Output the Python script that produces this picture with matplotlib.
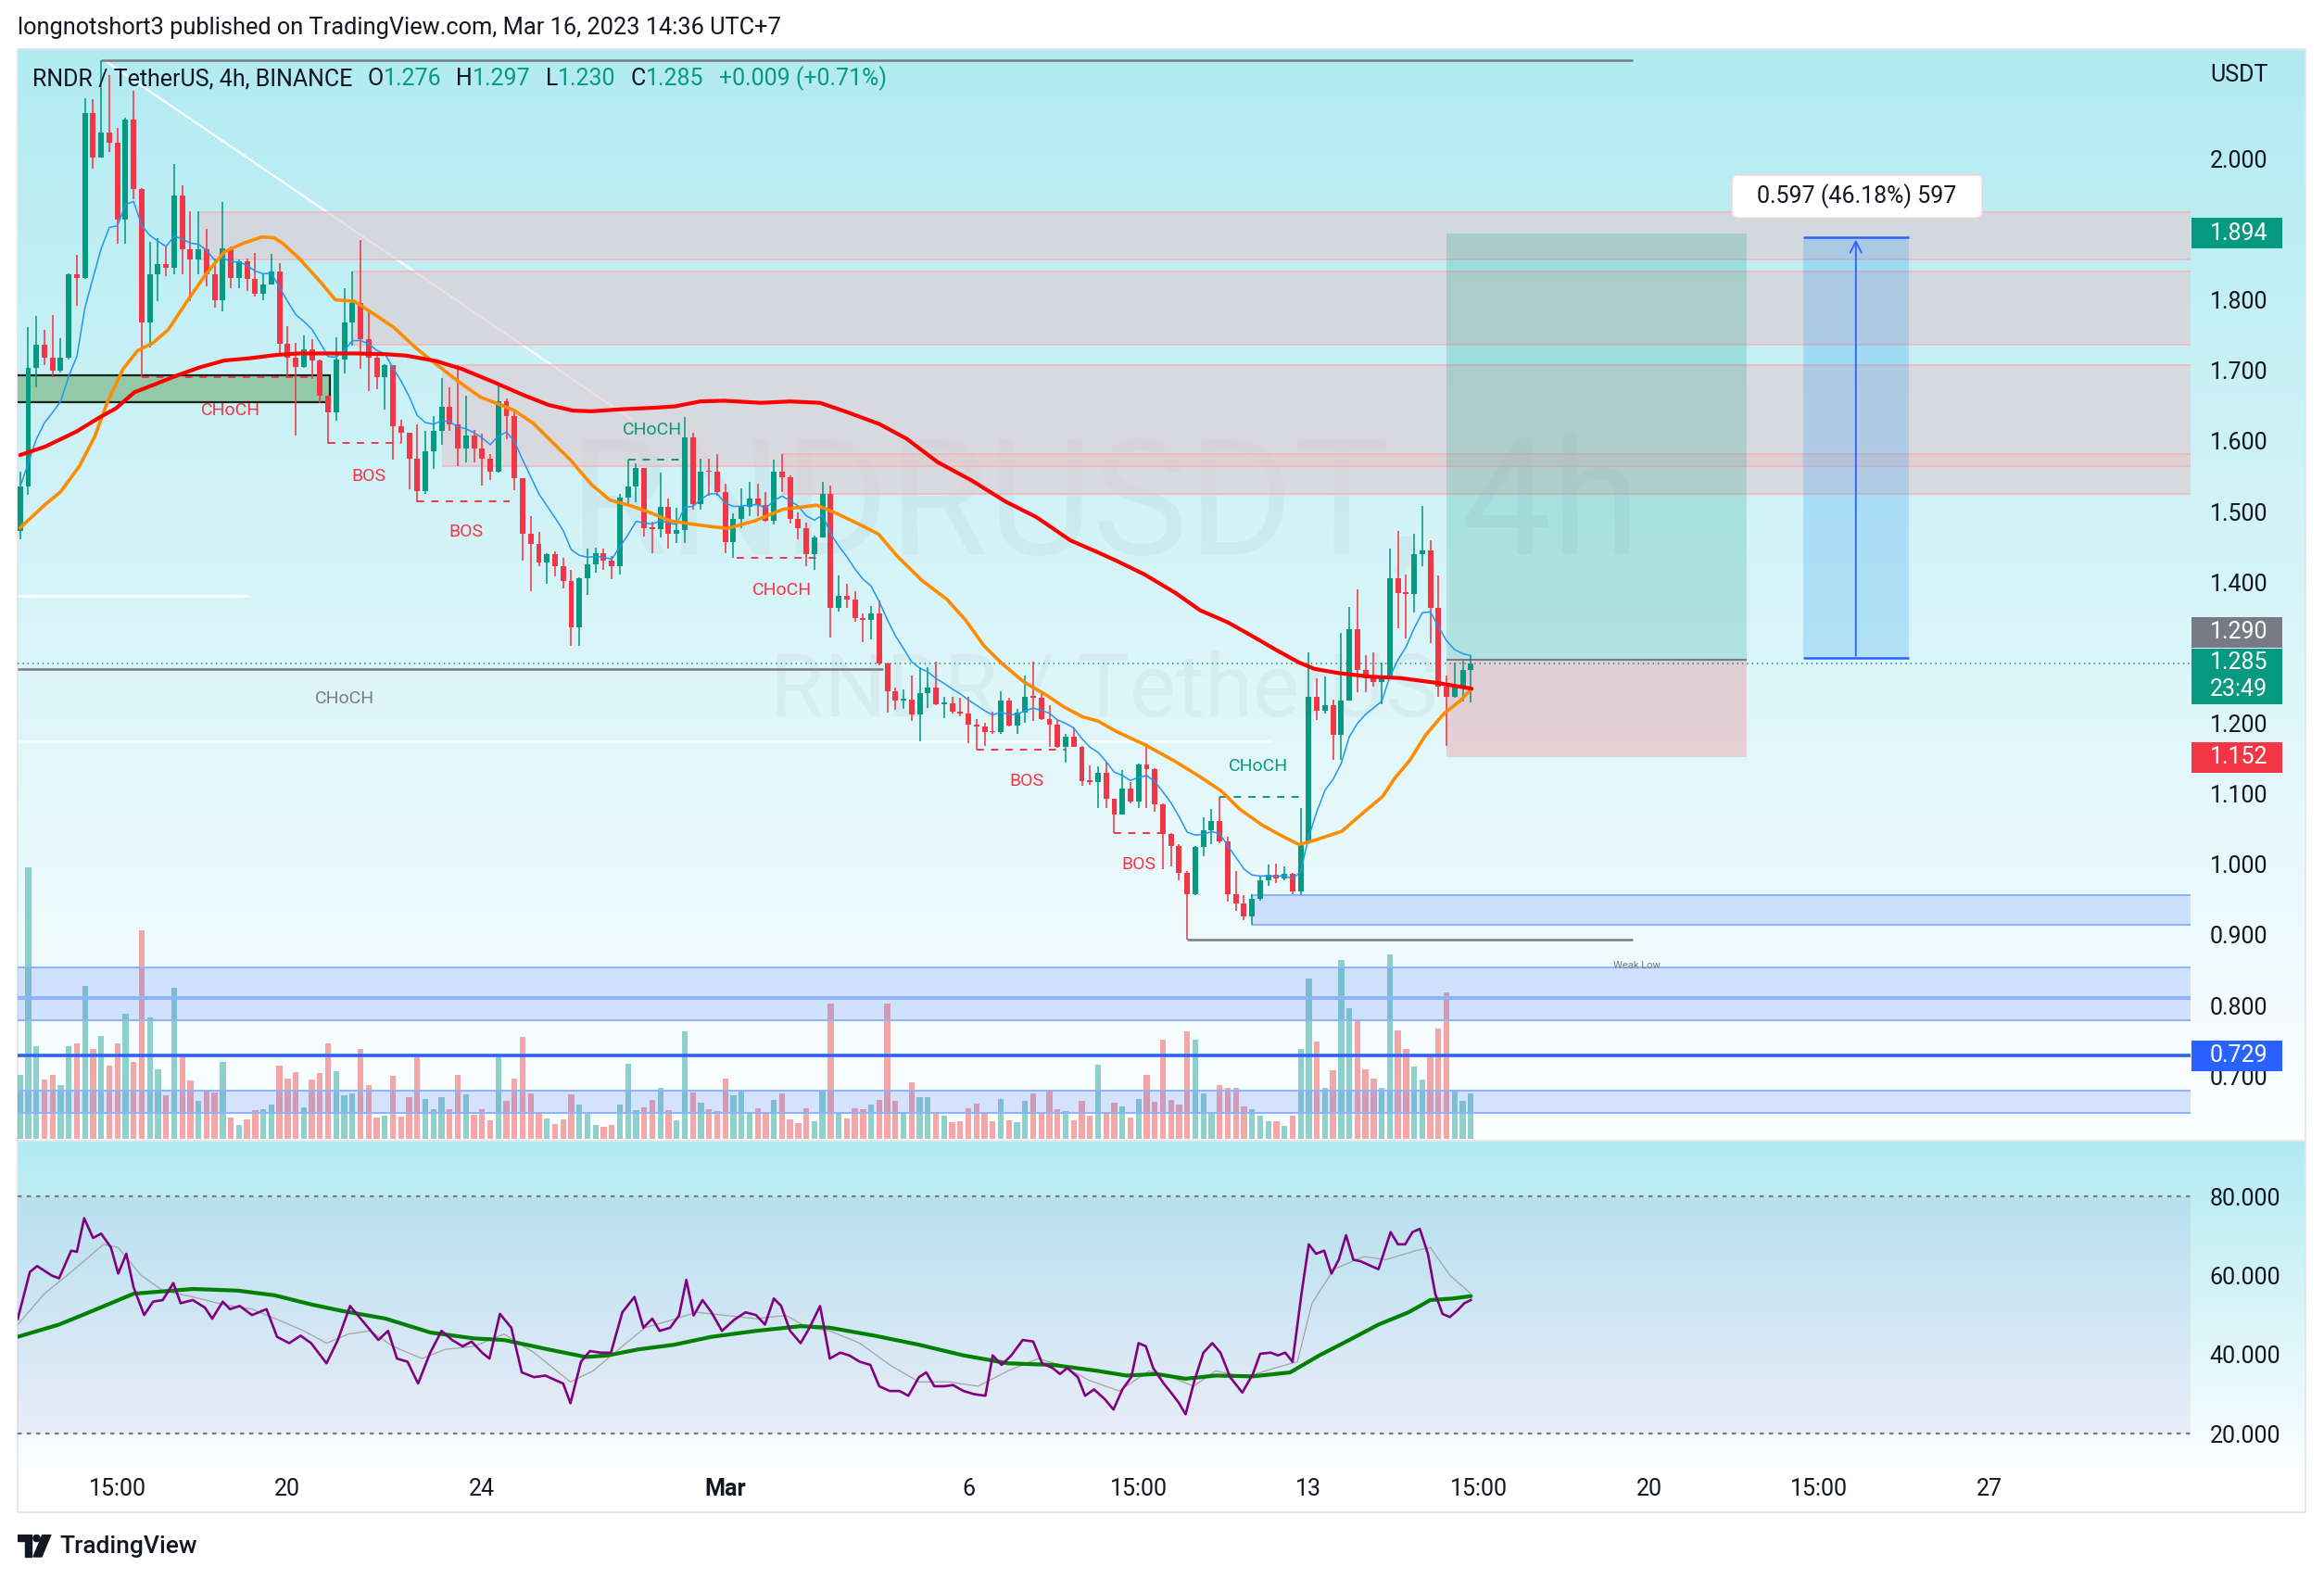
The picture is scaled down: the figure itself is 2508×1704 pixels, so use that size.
import matplotlib
matplotlib.use("Agg")
import matplotlib.pyplot as plt
from matplotlib.patches import Rectangle, Polygon, Circle, FancyBboxPatch
from matplotlib.transforms import blended_transform_factory
import numpy as np
import pandas as pd

plt.rcParams["font.family"] = ["Roboto", "DejaVu Sans"]

# ---------------- data ----------------
# 4h candles, index 0 = first candle of Feb 20; first visible candle is -33
FIRST_INDEX = -33
FIRST_OPEN = 1.472

closes = [
    1.535, 1.704, 1.737, 1.718, 1.700, 1.718, 1.836, 1.831, 2.065, 2.002,
    2.037, 2.023, 1.913, 2.056, 1.957, 1.768, 1.836, 1.850, 1.846, 1.948,
    1.871, 1.857, 1.872, 1.836, 1.800, 1.873, 1.831, 1.854, 1.829, 1.808,
    1.822, 1.840, 1.738, 1.718, 1.705, 1.730, 1.714, 1.664, 1.640, 1.715,
    1.768, 1.796, 1.744, 1.718, 1.691, 1.707, 1.621, 1.611, 1.575, 1.529,
    1.586, 1.614, 1.648, 1.623, 1.589, 1.608, 1.589, 1.575, 1.556, 1.656,
    1.635, 1.547, 1.468, 1.454, 1.428, 1.440, 1.423, 1.402, 1.336, 1.406,
    1.425, 1.441, 1.430, 1.422, 1.520, 1.535, 1.562, 1.476, 1.475, 1.507,
    1.469, 1.474, 1.605, 1.511, 1.557, 1.556, 1.527, 1.457, 1.490, 1.507,
    1.519, 1.509, 1.487, 1.556, 1.549, 1.489, 1.477, 1.439, 1.463, 1.525,
    1.363, 1.381, 1.375, 1.349, 1.346, 1.355, 1.284, 1.245, 1.232, 1.233,
    1.213, 1.242, 1.251, 1.227, 1.228, 1.217, 1.214, 1.198, 1.195, 1.188,
    1.187, 1.232, 1.197, 1.215, 1.238, 1.236, 1.206, 1.198, 1.166, 1.181,
    1.167, 1.118, 1.117, 1.130, 1.093, 1.071, 1.108, 1.089, 1.142, 1.135,
    1.085, 1.043, 1.026, 0.988, 0.958, 1.025, 1.048, 1.061, 1.032, 0.958,
    0.945, 0.926, 0.951, 0.978, 0.985, 0.980, 0.987, 0.962, 1.030, 1.238,
    1.218, 1.225, 1.183, 1.232, 1.333, 1.275, 1.264, 1.258, 1.268, 1.406,
    1.384, 1.383, 1.439, 1.445, 1.363, 1.252, 1.238, 1.253, 1.276, 1.285,
]
highs = [
    1.557, 1.761, 1.777, 1.758, 1.779, 1.746, 1.837, 1.864, 2.086, 2.084,
    2.140, 2.119, 2.044, 2.058, 2.096, 1.958, 1.882, 1.887, 1.875, 1.993,
    1.962, 1.925, 1.925, 1.901, 1.859, 1.939, 1.875, 1.857, 1.859, 1.866,
    1.836, 1.865, 1.852, 1.763, 1.739, 1.749, 1.744, 1.715, 1.664, 1.747,
    1.817, 1.840, 1.885, 1.782, 1.721, 1.709, 1.706, 1.630, 1.611, 1.623,
    1.614, 1.635, 1.689, 1.676, 1.708, 1.664, 1.616, 1.610, 1.581, 1.678,
    1.660, 1.645, 1.547, 1.493, 1.471, 1.441, 1.444, 1.435, 1.417, 1.407,
    1.448, 1.449, 1.448, 1.437, 1.525, 1.573, 1.568, 1.562, 1.485, 1.555,
    1.518, 1.505, 1.634, 1.612, 1.575, 1.575, 1.582, 1.540, 1.498, 1.533,
    1.542, 1.540, 1.527, 1.574, 1.581, 1.551, 1.499, 1.484, 1.466, 1.542,
    1.537, 1.410, 1.398, 1.387, 1.355, 1.366, 1.374, 1.286, 1.251, 1.248,
    1.267, 1.280, 1.280, 1.287, 1.238, 1.238, 1.236, 1.237, 1.206, 1.201,
    1.216, 1.245, 1.236, 1.220, 1.268, 1.287, 1.247, 1.225, 1.205, 1.185,
    1.193, 1.168, 1.140, 1.139, 1.146, 1.093, 1.133, 1.117, 1.143, 1.172,
    1.136, 1.087, 1.045, 1.028, 0.990, 1.026, 1.067, 1.078, 1.096, 1.039,
    0.991, 0.956, 0.958, 0.983, 1.000, 1.001, 0.997, 0.988, 1.080, 1.301,
    1.264, 1.266, 1.233, 1.328, 1.365, 1.390, 1.296, 1.300, 1.286, 1.448,
    1.472, 1.411, 1.468, 1.508, 1.459, 1.409, 1.267, 1.286, 1.289, 1.297,
]
lows = [
    1.460, 1.524, 1.676, 1.707, 1.690, 1.697, 1.716, 1.791, 1.830, 1.986,
    2.002, 2.009, 1.880, 1.880, 1.942, 1.690, 1.732, 1.798, 1.833, 1.836,
    1.836, 1.798, 1.836, 1.819, 1.789, 1.784, 1.817, 1.817, 1.812, 1.805,
    1.800, 1.822, 1.723, 1.690, 1.608, 1.704, 1.688, 1.653, 1.596, 1.629,
    1.695, 1.735, 1.702, 1.671, 1.673, 1.645, 1.573, 1.597, 1.531, 1.513,
    1.525, 1.560, 1.594, 1.614, 1.564, 1.569, 1.570, 1.537, 1.544, 1.555,
    1.603, 1.530, 1.430, 1.387, 1.422, 1.398, 1.408, 1.391, 1.310, 1.310,
    1.382, 1.413, 1.417, 1.404, 1.411, 1.509, 1.513, 1.465, 1.441, 1.463,
    1.448, 1.455, 1.455, 1.503, 1.503, 1.522, 1.522, 1.441, 1.435, 1.477,
    1.494, 1.494, 1.485, 1.482, 1.527, 1.483, 1.461, 1.422, 1.417, 1.463,
    1.321, 1.358, 1.363, 1.344, 1.315, 1.319, 1.282, 1.215, 1.219, 1.220,
    1.203, 1.174, 1.222, 1.226, 1.207, 1.214, 1.210, 1.172, 1.163, 1.168,
    1.185, 1.185, 1.196, 1.185, 1.201, 1.203, 1.205, 1.166, 1.165, 1.144,
    1.166, 1.111, 1.113, 1.080, 1.080, 1.045, 1.071, 1.087, 1.080, 1.080,
    1.074, 0.993, 0.997, 0.977, 0.894, 0.956, 1.012, 1.028, 1.030, 0.947,
    0.934, 0.921, 0.914, 0.949, 0.969, 0.973, 0.977, 0.958, 0.956, 1.029,
    1.204, 1.214, 1.148, 1.148, 1.232, 1.244, 1.244, 1.252, 1.227, 1.264,
    1.334, 1.320, 1.357, 1.422, 1.314, 1.238, 1.168, 1.236, 1.231, 1.230,
]
volumes = [
    205, 877, 300, 190, 207, 172, 300, 307, 495, 289,
    333, 235, 307, 403, 249, 672, 393, 225, 139, 489,
    273, 187, 121, 151, 149, 247, 67, 43, 61, 91,
    95, 109, 235, 195, 215, 100, 190, 211, 307, 217,
    139, 145, 289, 173, 67, 75, 202, 70, 133, 265,
    127, 95, 133, 95, 205, 143, 77, 95, 58, 270,
    122, 193, 328, 145, 82, 65, 47, 62, 142, 109,
    80, 43, 38, 45, 109, 241, 92, 100, 125, 163,
    92, 58, 347, 149, 115, 95, 89, 195, 139, 153,
    87, 99, 80, 125, 145, 61, 49, 99, 55, 153,
    438, 82, 65, 99, 95, 109, 125, 438, 122, 82,
    183, 135, 133, 80, 75, 52, 55, 99, 113, 85,
    55, 127, 58, 53, 122, 145, 80, 153, 95, 90,
    58, 122, 73, 240, 82, 117, 103, 68, 129, 205,
    119, 319, 125, 109, 346, 319, 147, 85, 172, 163,
    165, 103, 95, 75, 55, 55, 40, 75, 289, 519,
    313, 165, 222, 577, 423, 387, 225, 193, 165, 595,
    351, 289, 232, 192, 272, 357, 472, 153, 122, 145,
]

# moving averages read at sample points (candle index, price)
red_ma_x = [-33, -29.9, -26.1, -23.1, -21.2, -18.9, -16.2, -13.6, -10.9, -7.8,
            -4.8, -1.3, 1.4, 4.4, 8.2, 12.0, 14.6, 18.4, 21.5, 25.3,
            29.1, 32.2, 35.2, 37.5, 41.3, 45.2, 47.8, 50.9, 53.9, 58.4,
            62.0, 65.7, 69.0, 73.0, 76.4, 80.2, 84.4, 88.6, 92.4, 96.6,
            100.0, 102.3, 105.7, 109.5, 112.6, 116.0, 119.1, 122.1, 124.8, 126.7,
            129.7, 133.5, 137.3, 141.9, 146.1]
red_ma_y = [1.580, 1.592, 1.613, 1.634, 1.646, 1.669, 1.681, 1.693, 1.704, 1.714,
            1.717, 1.722, 1.724, 1.724, 1.724, 1.723, 1.721, 1.713, 1.702, 1.684,
            1.665, 1.651, 1.643, 1.642, 1.645, 1.647, 1.649, 1.656, 1.657, 1.654,
            1.656, 1.654, 1.641, 1.624, 1.603, 1.570, 1.544, 1.514, 1.492, 1.459,
            1.442, 1.430, 1.411, 1.385, 1.360, 1.343, 1.323, 1.303, 1.286, 1.277,
            1.271, 1.266, 1.264, 1.257, 1.249]
orange_ma_x = [-33, -29.9, -28.0, -25.7, -23.8, -22.3, -20.3, -18.5, -16.6, -14.7,
               -12.4, -10.1, -7.8, -5.5, -3.2, -1.7, -0.6, 1.4, 4.0, 5.9,
               8.2, 10.1, 13.1, 15.8, 18.4, 21.1, 23.8, 26.1, 28.0, 30.3,
               32.6, 34.9, 37.5, 39.8, 42.1, 44.4, 47.1, 49.4, 52.0, 54.3,
               57.7, 61.1, 65.3, 67.6, 70.7, 72.9, 75.2, 78.3, 81.3, 83.6,
               85.9, 88.2, 90.9, 93.6, 95.8, 98.1, 100.0, 102.3, 105.7, 109.5,
               112.6, 115.2, 117.5, 120.2, 122.9, 124.8, 126.7, 130.1, 132.8, 135.1,
               136.6, 138.5, 140.4, 142.7, 144.6, 146.1]
orange_ma_y = [1.477, 1.510, 1.528, 1.564, 1.606, 1.653, 1.702, 1.728, 1.739, 1.758,
               1.798, 1.836, 1.868, 1.880, 1.889, 1.888, 1.880, 1.859, 1.826, 1.800,
               1.798, 1.784, 1.761, 1.732, 1.708, 1.684, 1.662, 1.652, 1.643, 1.625,
               1.599, 1.573, 1.538, 1.516, 1.509, 1.500, 1.487, 1.483, 1.479, 1.476,
               1.487, 1.503, 1.509, 1.498, 1.481, 1.468, 1.437, 1.402, 1.376, 1.347,
               1.310, 1.284, 1.258, 1.240, 1.223, 1.209, 1.203, 1.188, 1.170, 1.146,
               1.124, 1.104, 1.078, 1.056, 1.039, 1.028, 1.034, 1.047, 1.074, 1.096,
               1.122, 1.148, 1.183, 1.214, 1.231, 1.249]

# RSI pane, read at (candle index, value)
rsi_x = [-33.3, -31.8, -30.9, -29.1, -28.2, -26.7, -26.0, -25.1, -24.0, -23.0,
         -21.8, -20.9, -19.9, -19.0, -17.7, -16.6, -15.4, -14.1, -13.2, -11.7,
         -10.2, -9.3, -8.0, -7.1, -5.9, -4.4, -2.6, -1.3, 0.2, 1.6,
         2.9, 4.8, 6.2, 7.7, 9.3, 11.2, 12.4, 13.5, 14.8, 16.1,
         17.6, 19.0, 20.3, 21.6, 22.7, 24.0, 24.9, 26.2, 27.6, 28.9,
         30.4, 31.8, 33.1, 34.0, 34.9, 36.2, 37.3, 38.6, 39.9, 41.3,
         42.8, 43.9, 45.0, 45.9, 47.2, 48.3, 49.2, 50.1, 51.2, 52.3,
         53.6, 55.1, 56.5, 57.8, 58.9, 60.0, 60.9, 62.0, 63.3, 64.4,
         65.7, 66.9, 68.2, 69.3, 70.6, 71.9, 73.0, 74.3, 75.5, 76.6,
         77.9, 78.8, 79.8, 81.0, 82.1, 83.4, 84.7, 86.1, 87.0, 88.1,
         89.3, 90.7, 92.0, 93.1, 94.4, 95.3, 96.2, 97.5, 98.4, 99.5,
         100.8, 101.9, 103.0, 104.1, 105.0, 105.9, 106.8, 108.1, 109.0, 109.9,
         110.8, 111.9, 113.0, 114.1, 115.1, 116.3, 117.8, 119.1, 120.0, 121.3,
         122.2, 123.1, 124.0, 125.1, 126.0, 126.9, 127.9, 128.8, 129.7, 130.6,
         131.5, 132.4, 133.7, 134.6, 136.1, 137.0, 137.9, 138.8, 139.7, 140.7,
         141.6, 142.5, 143.4, 144.3, 145.2, 146.0]
rsi_y = [49.0, 60.9, 62.4, 60.0, 59.3, 66.3, 66.0, 74.5, 69.5, 70.6,
         67.1, 60.5, 65.5, 57.0, 50.0, 53.4, 53.8, 58.1, 53.0, 53.8,
         51.9, 49.1, 53.4, 51.5, 52.3, 50.0, 51.5, 44.5, 42.9, 44.8,
         42.9, 37.8, 43.7, 52.3, 48.4, 43.7, 46.0, 39.0, 38.2, 32.7,
         40.5, 46.0, 43.7, 42.1, 43.3, 40.5, 39.0, 50.3, 46.8, 35.5,
         34.3, 34.7, 33.5, 32.7, 27.7, 38.2, 40.9, 40.5, 40.5, 50.7,
         54.6, 46.8, 49.1, 46.0, 46.8, 49.9, 58.9, 49.9, 53.8, 50.7,
         46.0, 48.8, 50.7, 50.0, 47.6, 54.2, 52.3, 46.0, 42.9, 46.8,
         52.3, 39.0, 40.5, 39.8, 38.2, 37.4, 32.0, 30.8, 30.8, 29.6,
         34.3, 35.5, 32.0, 32.0, 32.3, 30.8, 30.0, 29.6, 39.8, 37.4,
         39.8, 43.7, 43.3, 37.8, 36.6, 35.1, 36.6, 34.3, 29.6, 31.2,
         28.8, 26.1, 31.2, 34.3, 42.9, 42.1, 36.6, 32.7, 30.4, 28.0,
         24.9, 33.5, 40.5, 42.9, 40.5, 34.3, 30.4, 35.1, 40.2, 40.5,
         39.8, 40.5, 38.2, 55.4, 67.9, 65.5, 66.3, 60.5, 64.0, 70.2,
         64.0, 63.6, 62.4, 61.6, 71.0, 67.9, 67.9, 71.0, 71.8, 65.5,
         55.4, 50.3, 49.5, 51.1, 53.0, 53.8]
rsi_smooth_x = [-33.3, -30.0, -26.3, -22.7, -20.9, -18.1, -15.4, -11.7, -8.0, -4.4,
                -0.7, 2.0, 4.8, 7.5, 10.2, 13.0, 16.6, 19.4, 23.0, 26.7,
                30.4, 34.9, 37.7, 41.3, 44.1, 46.8, 50.5, 54.1, 57.8, 61.5,
                64.2, 66.9, 70.6, 74.3, 77.9, 81.6, 85.2, 88.9, 92.6, 95.3,
                98.9, 102.6, 106.3, 109.0, 111.8, 114.5, 118.2, 121.8, 124.6, 126.4,
                129.1, 132.8, 135.5, 139.2, 141.0, 143.4, 146.0]
rsi_smooth_y = [47.6, 55.4, 61.6, 67.9, 67.1, 60.1, 56.2, 54.6, 52.7, 51.5,
                48.4, 46.0, 42.9, 45.2, 46.0, 42.1, 39.0, 41.3, 42.1, 45.2,
                40.5, 33.1, 35.9, 42.1, 46.8, 48.4, 50.7, 49.9, 49.1, 49.9,
                46.8, 46.0, 42.9, 37.4, 33.1, 33.1, 32.0, 35.9, 39.0, 37.4,
                33.5, 30.8, 35.9, 34.3, 32.0, 35.9, 34.3, 36.6, 38.2, 53.0,
                61.6, 64.8, 64.0, 66.3, 67.1, 60.1, 55.4]
rsi_ma_x = [-33.3, -28.2, -24.5, -19.0, -11.7, -6.2, -1.6, 2.9, 6.6, 12.1,
            17.6, 23.0, 26.7, 32.2, 36.8, 39.5, 43.2, 47.7, 52.3, 57.8,
            63.3, 66.9, 72.4, 77.9, 83.4, 88.9, 94.4, 99.9, 103.5, 107.2,
            110.8, 114.5, 119.1, 123.7, 127.3, 131.0, 134.6, 138.3, 141.0, 143.8,
            146.0]
rsi_ma_y = [44.5, 47.6, 50.7, 55.4, 56.6, 56.2, 55.0, 52.7, 51.1, 49.1,
            45.6, 44.1, 43.7, 41.3, 39.4, 39.8, 41.3, 42.5, 44.5, 46.0,
            47.2, 46.8, 44.8, 42.5, 39.8, 37.8, 37.4, 35.9, 34.7, 35.1,
            33.9, 34.7, 34.5, 35.5, 39.8, 43.7, 47.6, 50.7, 53.8, 54.2,
            54.8]

tick_idx = [-21, 0, 24, 54, 84, 105, 126, 147, 168, 189, 210]
tick_lbl = ["15:00", "20", "24", "Mar", "6", "15:00", "13", "15:00", "20", "15:00", "27"]
price_ticks = [0.7, 0.8, 0.9, 1.0, 1.1, 1.2, 1.4, 1.5, 1.6, 1.7, 1.8, 2.0]
rsi_ticks = [20, 40, 60, 80]

entry_price = 1.290
target_price = 1.894
stop_price = 1.152
last_price = 1.285
level_line = 0.729
measure_lo, measure_hi = 1.292, 1.889
measure_text = "0.597 (46.18%) 597"

supply_zones = [(-11, 1.857, 1.924), (8, 1.737, 1.840), (19, 1.564, 1.708), (61, 1.525, 1.582)]
demand_zones = [(119, 0.914, 0.956), (-34, 0.809, 0.854), (-34, 0.779, 0.812), (-34, 0.648, 0.679)]

# ---------------- style ----------------
GREEN = "#089981"
RED = "#f23645"
TXT = "#131722"
GRAY = "#787b86"
FS = 18

W, H = 2508, 1704
def fx(px):
    return px / W
def fy(py):
    return 1 - py / H

PLOT_L, PLOT_R, AXIS_R = 19.2, 2364, 2488
MAIN_T, MAIN_B = 52.8, 1228.8
RSI_T, RSI_B = 1232, 1587
XLIM = (-33.29, 234.8)
YLIM = (0.6113, 2.1555)

fig = plt.figure(figsize=(W / 100, H / 100), dpi=100, facecolor="white")


def gradient_bg(top, bottom):
    bg = fig.add_axes([fx(PLOT_L), fy(bottom), fx(AXIS_R) - fx(PLOT_L), (bottom - top) / H], zorder=0)
    c0 = np.array([178, 235, 242]) / 255
    c1 = np.array([252, 254, 255]) / 255
    t = np.linspace(0, 1, 256)[:, None]
    grad = (c0 * (1 - t) + c1 * t)[:, None, :]
    bg.imshow(grad, aspect="auto", extent=(0, 1, 0, 1))
    bg.axis("off")


gradient_bg(MAIN_T, MAIN_B)
gradient_bg(RSI_T, RSI_B)

main_rect = [fx(PLOT_L), fy(MAIN_B), fx(PLOT_R) - fx(PLOT_L), (MAIN_B - MAIN_T) / H]
rsi_rect = [fx(PLOT_L), fy(RSI_B), fx(PLOT_R) - fx(PLOT_L), (RSI_B - RSI_T) / H]

idx = np.arange(FIRST_INDEX, FIRST_INDEX + len(closes))
c = np.array(closes)
o = np.r_[FIRST_OPEN, c[:-1]]
up = c >= o
cols = np.where(up, GREEN, RED)

# volume overlay
axv = fig.add_axes(main_rect, zorder=1)
axv.patch.set_alpha(0)
vcols = np.where(up, "#26a69a", "#ef5350")
axv.bar(idx, volumes, width=0.72, color=vcols, alpha=0.5, linewidth=0)
axv.set_xlim(XLIM)
axv.set_ylim(0, 3522)
axv.axis("off")

# main price pane
ax = fig.add_axes(main_rect, zorder=2)
ax.patch.set_alpha(0)
ax.set_xlim(XLIM)
ax.set_ylim(YLIM)
for s in ax.spines.values():
    s.set_visible(False)
ax.set_xticks([])
ax.yaxis.tick_right()
ax.set_yticks(price_ticks)
ax.set_yticklabels([f"{p:.3f}" for p in price_ticks])
ax.tick_params(axis="y", length=0, pad=15, labelsize=FS, labelcolor=TXT)

# watermark
ax.text(0.5, 0.578, "RNDRUSDT, 4h", transform=ax.transAxes, ha="center", va="center",
        fontsize=125, color=GRAY, alpha=0.07, zorder=0.5)
ax.text(0.5, 0.41, "RNDR / TetherUS", transform=ax.transAxes, ha="center", va="center",
        fontsize=68, color=GRAY, alpha=0.07, zorder=0.5)

# diagonal trend line (under zones)
ax.plot([-22.7, 42.5], [2.140, 1.630], color="white", lw=1.6, zorder=0.8)

# supply zones
for x0, lo, hi in supply_zones:
    ax.add_patch(Rectangle((x0, lo), XLIM[1] - x0, hi - lo, facecolor="#e3c7cd", alpha=0.55,
                           edgecolor="none", zorder=1))
    ax.hlines([lo, hi], x0, XLIM[1], colors="#f2b3ba", lw=1.1, zorder=1.1)

# demand zones
for x0, lo, hi in demand_zones:
    ax.add_patch(Rectangle((x0, lo), XLIM[1] - x0, hi - lo, facecolor="#2962ff", alpha=0.17,
                           edgecolor="none", zorder=1))
    ax.hlines([lo, hi], x0, XLIM[1], colors="#8fb4f7", lw=1.5, zorder=1.1)

# green order block with black frame
ax.add_patch(Rectangle((-34, 1.655), 39.2, 0.038, facecolor="#93c9a9", edgecolor="#15251c",
                       lw=1.6, zorder=1.2))

# horizontal levels
ax.hlines(2.140, -23, 166, colors=GRAY, lw=1.8, zorder=2)
ax.hlines(1.277, XLIM[0], 73.5, colors=GRAY, lw=1.8, zorder=2)
ax.hlines(0.894, 111, 166, colors=GRAY, lw=1.8, zorder=2)
ax.hlines(1.381, XLIM[0], -4.9, colors="white", lw=1.8, zorder=2)
ax.hlines(1.175, XLIM[0], 121.3, colors="white", lw=1.8, zorder=2)
ax.hlines(level_line, XLIM[0], XLIM[1], colors="#2962ff", lw=2.6, zorder=2)
ax.hlines(last_price, XLIM[0], XLIM[1], colors=GREEN, lw=1.1, linestyles=(0, (1, 2.5)), zorder=2)

# structure labels
dash = (0, (4, 4))
for x0, x1, y, col in [(-18, 3, 1.690, RED), (5, 14, 1.597, RED), (16, 27.4, 1.514, RED),
                       (55.4, 65.6, 1.434, RED), (85, 96, 1.162, RED), (102, 108, 1.045, RED),
                       (42, 48.5, 1.573, GREEN), (115, 125.5, 1.096, GREEN)]:
    ax.hlines(y, x0, x1, colors=col, lw=1.4, linestyles=dash, zorder=2.5)
for x, y, s, col in [(-7, 1.643, "CHoCH", RED), (10, 1.550, "BOS", RED), (22, 1.471, "BOS", RED),
                     (61, 1.389, "CHoCH", RED), (91.2, 1.118, "BOS", RED), (105, 1.000, "BOS", RED),
                     (45, 1.616, "CHoCH", GREEN), (119.8, 1.139, "CHoCH", GREEN),
                     (7, 1.235, "CHoCH", GRAY)]:
    ax.text(x, y, s, color=col, fontsize=14, ha="center", va="center", zorder=6)
ax.text(166.5, 0.857, "Weak Low", color=GRAY, fontsize=8, ha="center", va="center", zorder=6)

# long position tool
ax.add_patch(Rectangle((143, entry_price), 37, target_price - entry_price, facecolor=GREEN,
                       alpha=0.2, edgecolor="none", zorder=1.3))
ax.add_patch(Rectangle((143, stop_price), 37, entry_price - stop_price, facecolor=RED,
                       alpha=0.2, edgecolor="none", zorder=1.3))
ax.hlines(entry_price, 143, 180, colors=GRAY, lw=1.5, zorder=2.6)

# measure tool
ax.add_patch(Rectangle((187, measure_lo), 13, measure_hi - measure_lo, facecolor="#2196f3",
                       alpha=0.22, edgecolor="none", zorder=1.3))
ax.hlines([measure_lo, measure_hi], 187, 200, colors="#2962ff", lw=1.8, zorder=2.6)
ax.annotate("", xy=(193.5, measure_hi), xytext=(193.5, measure_lo),
            arrowprops=dict(arrowstyle="->", color="#2962ff", lw=1.3, mutation_scale=22), zorder=2.6)
px_per_unit = (MAIN_B - MAIN_T) / (YLIM[1] - YLIM[0])
px_per_bar = (PLOT_R - PLOT_L) / (XLIM[1] - XLIM[0])
ax.add_patch(FancyBboxPatch((178.2, 1.916), 30.9, 0.061,
                            boxstyle="round,pad=0,rounding_size=0.8",
                            mutation_aspect=px_per_bar / px_per_unit,
                            facecolor="white", edgecolor="#f6d3d7", lw=1.2, zorder=7))
ax.text(193.65, 1.9465, measure_text, ha="center", va="center", fontsize=FS, color=TXT, zorder=7.5)

# candles
ax.vlines(idx, lows, highs, colors=cols, lw=1.15, zorder=4)
body_lo = np.minimum(o, c)
body_h = np.maximum(np.abs(c - o), 0.0022)
ax.bar(idx, body_h, bottom=body_lo, width=0.68, color=cols, linewidth=0, zorder=4.1)

# moving averages
ema_fast = pd.Series(c).ewm(span=9, adjust=False).mean()
ax.plot(idx, ema_fast, color="#2196f3", lw=1.1, zorder=4.5)
ax.plot(orange_ma_x, orange_ma_y, color="#ff8c00", lw=2.6, zorder=4.6, solid_capstyle="round")
ax.plot(red_ma_x, red_ma_y, color="#ff0000", lw=3.0, zorder=4.7, solid_capstyle="round")

# price-scale badges
badge_tr = blended_transform_factory(ax.transAxes, ax.transData)
bw = 98 / (PLOT_R - PLOT_L)
tx = 1 + 21 / (PLOT_R - PLOT_L)
for y_mid, h_px, label, col in [(target_price, 33, "1.894", GREEN), (1.329, 33, "1.290", GRAY),
                                (1.2665, 60, "1.285\n23:49", GREEN), (stop_price, 33, "1.152", RED),
                                (level_line, 33, "0.729", "#2962ff")]:
    h = h_px / px_per_unit
    ax.add_patch(Rectangle((1.0005, y_mid - h / 2), bw, h, transform=badge_tr, facecolor=col,
                           edgecolor="none", clip_on=False, zorder=8))
    ax.text(tx, y_mid, label, transform=badge_tr, color="white", fontsize=FS, va="center",
            ha="left", linespacing=1.25, zorder=9, clip_on=False)
fig.text(fx(2385), fy(81), "USDT", fontsize=FS, color=TXT, va="center", ha="left")

# RSI pane
axr = fig.add_axes(rsi_rect, zorder=2)
axr.patch.set_alpha(0)
axr.set_xlim(XLIM)
axr.set_ylim(10.67, 93.87)
for s in axr.spines.values():
    s.set_visible(False)
axr.axhspan(20, 80, color="#7e57c2", alpha=0.09, lw=0)
axr.axhline(80, color=GRAY, lw=1.6, ls=(0, (2, 2.5)))
axr.axhline(20, color=GRAY, lw=1.6, ls=(0, (2, 2.5)))
axr.plot(rsi_smooth_x, rsi_smooth_y, color="#a3a3a3", lw=0.9, zorder=3)
axr.plot(rsi_ma_x, rsi_ma_y, color="#008000", lw=3.0, zorder=4, solid_capstyle="round")
axr.plot(rsi_x, rsi_y, color="#800080", lw=1.9, zorder=5)
axr.yaxis.tick_right()
axr.set_yticks(rsi_ticks)
axr.set_yticklabels([f"{v:.3f}" for v in rsi_ticks])
axr.tick_params(axis="y", length=0, pad=15, labelsize=FS, labelcolor=TXT)
axr.set_xticks(tick_idx)
axr.set_xticklabels(tick_lbl)
axr.tick_params(axis="x", length=0, pad=6, labelsize=FS, labelcolor=TXT)
for t in axr.get_xticklabels():
    if t.get_text() == "Mar":
        t.set_fontweight("bold")

# frame and separators
fig.add_artist(plt.Line2D([fx(PLOT_L), fx(AXIS_R)], [fy(1230.5), fy(1230.5)], color="#dfe3ea", lw=1.2))
fig.add_artist(Rectangle((fx(PLOT_L), fy(1632)), fx(AXIS_R) - fx(PLOT_L), (1632 - MAIN_T) / H,
                         transform=fig.transFigure, fill=False, edgecolor="#e0e3eb", lw=1.2))

# header
fig.text(fx(19), fy(30), "longnotshort3 published on TradingView.com, Mar 16, 2023 14:36 UTC+7",
         fontsize=18.3, color=TXT, va="center", ha="left")

# legend line with coloured values
renderer = fig.canvas.get_renderer()
x = fx(35)
runs = [("RNDR / TetherUS, 4h, BINANCE", TXT, 16), ("O", TXT, 0), ("1.276", GREEN, 16),
        ("H", TXT, 0), ("1.297", GREEN, 16), ("L", TXT, 0), ("1.230", GREEN, 16),
        ("C", TXT, 0), ("1.285", GREEN, 16), ("+0.009 (+0.71%)", GREEN, 0)]
for s, col, gap in runs:
    t = fig.text(x, fy(85), s, fontsize=FS, color=col, va="center", ha="left", zorder=10)
    bb = t.get_window_extent(renderer=renderer)
    x += (bb.width + gap) / W

# footer logo
lax = fig.add_axes([fx(19), fy(1682), 40 / W, 26 / H])
lax.set_xlim(0, 40)
lax.set_ylim(0, 26)
lax.axis("off")
lax.add_patch(Polygon([(0, 26), (15, 26), (15, 2), (8, 2), (8, 19), (0, 19)], closed=True, color=TXT))
lax.add_patch(Circle((20.5, 22), 3.6, color=TXT))
lax.add_patch(Polygon([(27, 26), (36, 26), (26, 2), (17, 2)], closed=True, color=TXT))
fig.text(fx(64), fy(1669), "TradingView", fontsize=19, fontweight="medium", color=TXT,
         va="center", ha="left")

fig.savefig("out.png", dpi=100)
